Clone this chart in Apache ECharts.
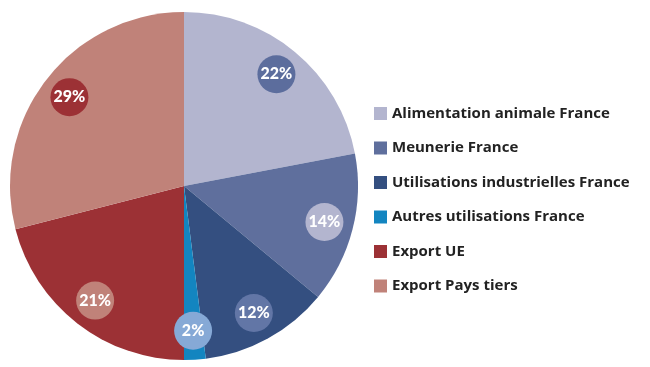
<!DOCTYPE html>
<html><head><meta charset="utf-8">
<script src="https://cdn.jsdelivr.net/npm/echarts@6/dist/echarts.min.js"></script>
<style>html,body{margin:0;padding:0;background:#fff}#c{width:650px;height:367px}</style>
</head><body><div id="c"></div>
<script>
const categories = ["Alimentation animale France","Meunerie France","Utilisations industrielles France","Autres utilisations France","Export UE","Export Pays tiers"];
const values = [22,14,12,2,21,29];
const sliceColors = ["#b3b5cf","#5f6f9d","#344f80","#1385c0","#9c3135","#c08279"];
const badgeColors = ["#5c6d9d","#b3b5cf","#6276a6","#86a9d6","#c08279","#9c3135"];

const rich = {};
badgeColors.forEach((c,i)=>{
  rich['b'+i] = {fontFamily:'Lato', fontWeight:900, fontSize:16, color:'#fff',
    backgroundColor:c, width:38, height:38, lineHeight:38, borderRadius:19, align:'center', verticalAlign:'middle'};
});

const chart = echarts.init(document.getElementById('c'));
chart.setOption({
  animation:false,
  legend:{
    orient:'vertical', left:369, top:101, padding:5,
    itemWidth:13, itemHeight:13, itemGap:19.5,
    icon:'rect',
    data:categories,
    textStyle:{fontFamily:'Open Sans', fontWeight:'bold', fontSize:15, color:'#222'}
  },
  series:[
    {
      type:'pie', z:2, center:[184,186], radius:[0,174], startAngle:90, clockwise:true,
      label:{show:false}, labelLine:{show:false}, silent:true,
      data:categories.map((n,i)=>({name:n,value:values[i],itemStyle:{color:sliceColors[i]}}))
    },
    {
      type:'pie', z:5, center:[184,186], radius:[0,284], startAngle:90, clockwise:true,
      silent:true, labelLine:{show:false}, legendHoverLink:false,
      itemStyle:{color:'rgba(0,0,0,0)'},
      label:{show:true, position:'inside',
        formatter:p=>'{b'+p.dataIndex+'|'+p.value+'%}', rich:rich},
      data:categories.map((n,i)=>({name:n,value:values[i],itemStyle:{color:'rgba(0,0,0,0)'}}))
    }
  ]
});
</script></body></html>
